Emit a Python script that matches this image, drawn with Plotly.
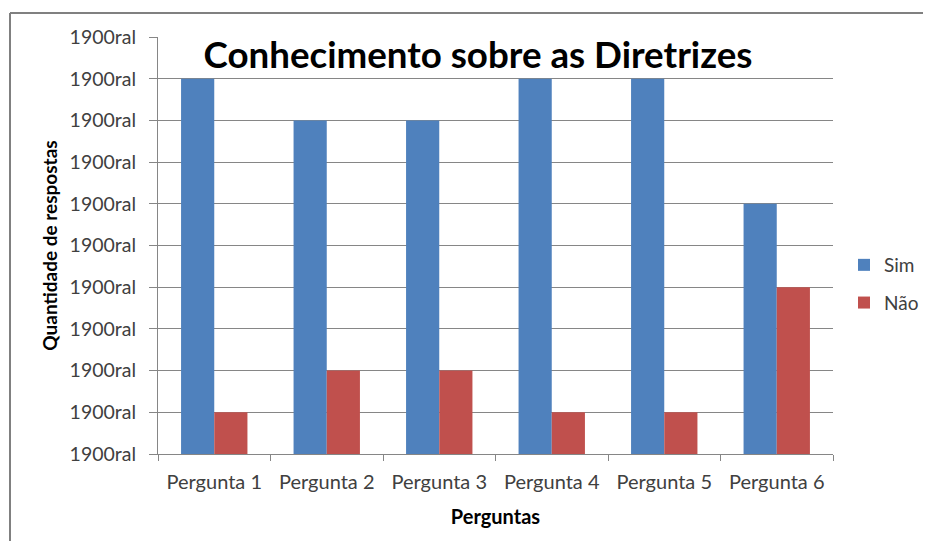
import plotly.graph_objects as go

categories = ["Pergunta 1", "Pergunta 2", "Pergunta 3", "Pergunta 4", "Pergunta 5", "Pergunta 6"]
sim_values = [9, 8, 8, 9, 9, 6]
nao_values = [1, 2, 2, 1, 1, 4]
tick_values = list(range(0, 11))
tick_labels = ["1900ral"] * 11

FONT = "Lato, 'Open Sans', sans-serif"
TXT = "#404040"
GRID = "#868686"

fig = go.Figure()
fig.add_trace(go.Bar(name="Sim", x=categories, y=sim_values, marker_color="#4f81bd",
                     marker_line_width=0, legendgroup="a"))
fig.add_trace(go.Bar(name="Não", x=categories, y=nao_values, marker_color="#c0504d",
                     marker_line_width=0, legendgroup="b"))

O = 8  # page body margin offset
W, H = 931 - 2 * O, 549 - 2 * O
L, R, T, B = 158 - O, 833 - O, 37 - O, 454 - O
pw, ph = R - L, B - T

def px(x):
    return (x - O - L) / pw

def py(y):
    return (B - (y - O)) / ph

border = dict(color="#808080", width=2)

fig.update_layout(
    width=W, height=H,
    margin=dict(l=L, r=W - R, t=T, b=H - B, pad=0, autoexpand=False),
    paper_bgcolor="white", plot_bgcolor="white",
    barmode="group", bargap=0.41, bargroupgap=0,
    font=dict(family=FONT, size=19, color=TXT),
    title=dict(text="<b>Conhecimento sobre as Diretrizes</b>",
               font=dict(family=FONT, size=36.7, color="black"),
               x=px(478), xanchor="center", y=py(55), yanchor="middle",
               xref="paper", yref="paper"),
    showlegend=True,
    legend=dict(x=px(844), y=py(246), xanchor="left", yanchor="top",
                font=dict(family=FONT, size=19, color=TXT),
                tracegroupgap=10, bgcolor="rgba(0,0,0,0)"),
    xaxis=dict(title=dict(text="<b>Perguntas</b>", font=dict(family=FONT, size=20, color="black"),
                          standoff=17),
               showline=True, linecolor=GRID, linewidth=1,
               ticks="outside", ticklen=6, tickcolor=GRID, tickson="boundaries",
               ticklabelstandoff=10,
               tickfont=dict(family=FONT, size=20, color=TXT), showgrid=False),
    yaxis=dict(title=dict(text="<b>Quantidade de respostas</b>",
                          font=dict(family=FONT, size=19, color="black"), standoff=6),
               range=[0, 10], tickvals=tick_values, ticktext=tick_labels,
               showline=True, linecolor=GRID, linewidth=1,
               ticks="outside", ticklen=8, tickcolor=GRID,
               ticklabelstandoff=9,
               showgrid=True, gridcolor=GRID, gridwidth=1, zeroline=False,
               tickfont=dict(family=FONT, size=19.5, color=TXT)),
    shapes=[
        dict(type="line", xref="paper", yref="paper",
             x0=px(10), x1=px(10), y0=py(541), y1=py(13), line=border, layer="below"),
        dict(type="line", xref="paper", yref="paper",
             x0=px(10), x1=px(923), y0=py(13), y1=py(13), line=border, layer="below"),
    ],
)

fig.write_html("out.html")
